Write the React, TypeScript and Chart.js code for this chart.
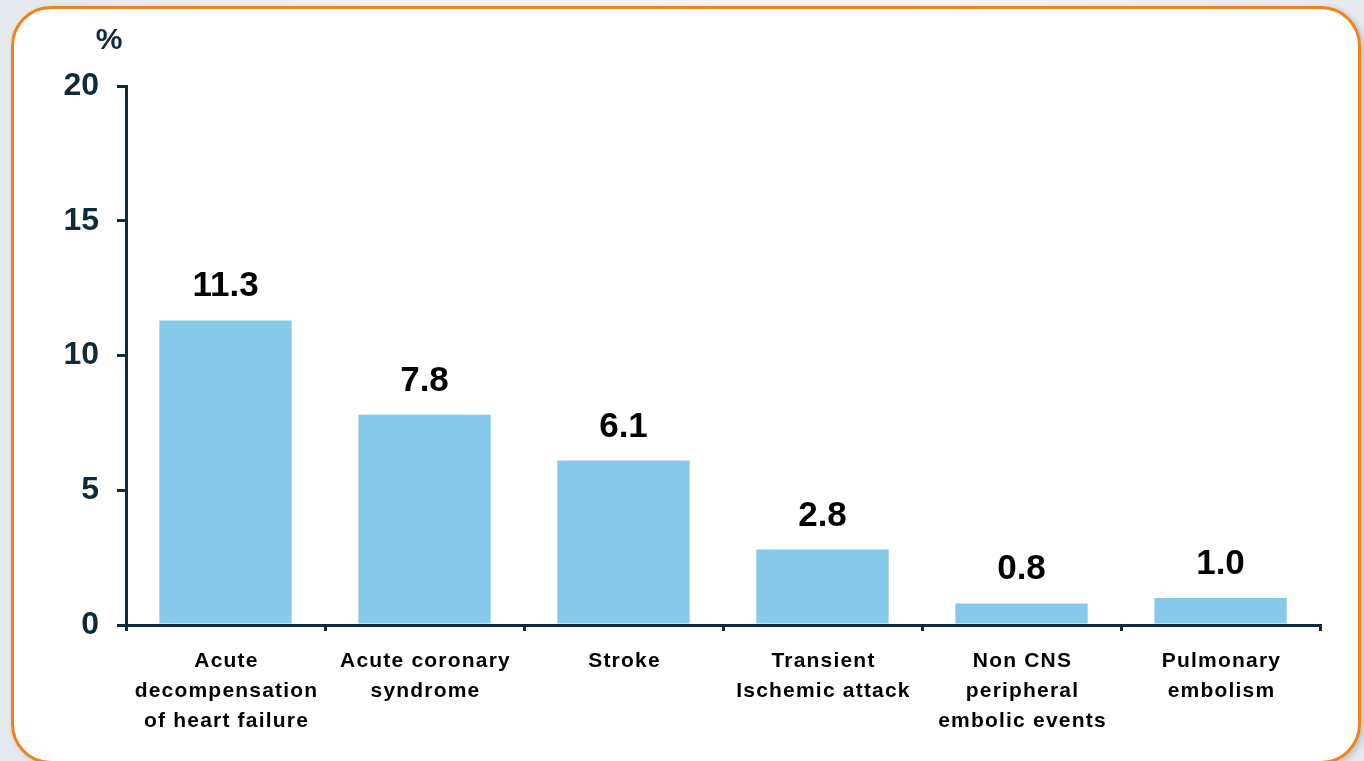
import React, { useEffect, useRef } from "react";
import { Chart, registerables } from "chart.js";

Chart.register(...registerables);

// Event rates by type (%)
const categories: string[][] = [
  ["Acute", "decompensation", "of heart failure"],
  ["Acute coronary", "syndrome"],
  ["Stroke"],
  ["Transient", "Ischemic attack"],
  ["Non CNS", "peripheral", "embolic events"],
  ["Pulmonary", "embolism"],
];
const rates: number[] = [11.3, 7.8, 6.1, 2.8, 0.8, 1.0];
const yTicks: number[] = [0, 5, 10, 15, 20];
const unitLabel = "%";

const NAVY = "#0e2a3b";
const BAR = "#86c9ea";
const FONT = "'Liberation Sans', Arial, sans-serif";

// Value labels above each bar, plus the multi-line category labels under the axis.
const annotations = {
  id: "annotations",
  afterDatasetsDraw(chart: any) {
    const ctx = chart.ctx;
    const meta = chart.getDatasetMeta(0);
    ctx.save();
    ctx.font = `bold 35px ${FONT}`;
    ctx.fillStyle = "#000";
    ctx.textAlign = "center";
    ctx.textBaseline = "alphabetic";
    meta.data.forEach((bar: any, i: number) => {
      ctx.fillText(rates[i].toFixed(1), bar.x, bar.y - 24);
    });
    ctx.restore();
  },
  afterDraw(chart: any) {
    const ctx = chart.ctx;
    const x = chart.scales.x;
    const y = chart.scales.y;
    ctx.save();
    // category labels
    ctx.font = `bold 21px ${FONT}`;
    (ctx as any).letterSpacing = "1.2px";
    ctx.fillStyle = "#000";
    ctx.textAlign = "center";
    ctx.textBaseline = "alphabetic";
    categories.forEach((lines, i) => {
      const cx = x.getPixelForValue(i) + 1;
      lines.forEach((line, j) => {
        ctx.fillText(line, cx, x.top + 42 + j * 30);
      });
    });
    // unit above the value axis
    (ctx as any).letterSpacing = "0px";
    ctx.font = `bold 30px ${FONT}`;
    ctx.fillStyle = NAVY;
    ctx.fillText(unitLabel, y.right - 17, 49);
    ctx.restore();
  },
};

export default function App() {
  const ref = useRef<HTMLCanvasElement | null>(null);

  useEffect(() => {
    if (!ref.current) return;
    const chart = new Chart(ref.current, {
      type: "bar",
      data: {
        labels: categories,
        datasets: [
          {
            data: rates,
            backgroundColor: BAR,
            borderWidth: 0,
            barPercentage: 0.665,
            categoryPercentage: 1,
          },
        ],
      },
      options: {
        animation: false,
        responsive: false,
        layout: { padding: { top: 86, right: 44, left: 0, bottom: 0 } },
        plugins: {
          legend: { display: false },
          tooltip: { enabled: false },
          title: { display: false },
        },
        scales: {
          x: {
            grid: {
              offset: true,
              drawOnChartArea: false,
              drawTicks: true,
              tickLength: 6,
              lineWidth: 3,
              color: NAVY,
            },
            border: { display: true, color: NAVY, width: 3 },
            ticks: { display: false },
            afterFit(scale: any) {
              scale.height = 136;
            },
          },
          y: {
            min: 0,
            max: 20,
            afterBuildTicks(scale: any) {
              scale.ticks = yTicks.map((v) => ({ value: v }));
            },
            grid: {
              drawOnChartArea: false,
              drawTicks: true,
              tickLength: 9,
              lineWidth: 3,
              color: NAVY,
            },
            border: { display: true, color: NAVY, width: 3 },
            ticks: {
              color: NAVY,
              padding: 18,
              font: { family: FONT, size: 32, weight: "bold" },
            },
            afterFit(scale: any) {
              scale.width = 126;
            },
          },
        },
      },
      plugins: [annotations],
    });
    return () => chart.destroy();
  }, []);

  return (
    <div
      style={{
        position: "fixed",
        left: 0,
        top: 0,
        width: 1364,
        height: 761,
        overflow: "hidden",
        background: "linear-gradient(90deg, #e4e9ed 0%, #f2f4f6 30%, #f4f5f7 70%, #e6eaee 100%)",
      }}
    >
      <div
        style={{
          position: "absolute",
          left: 11,
          top: 6,
          width: 1350,
          height: 758,
          boxSizing: "border-box",
          border: "3.5px solid #ef8319",
          borderRadius: 40,
          background: "#ffffff",
          boxShadow: "3px 2px 6px rgba(0,0,0,0.18)",
        }}
      />
      <canvas
        ref={ref}
        width={1364}
        height={761}
        style={{ position: "absolute", left: 0, top: 0, width: 1364, height: 761 }}
      />
    </div>
  );
}
